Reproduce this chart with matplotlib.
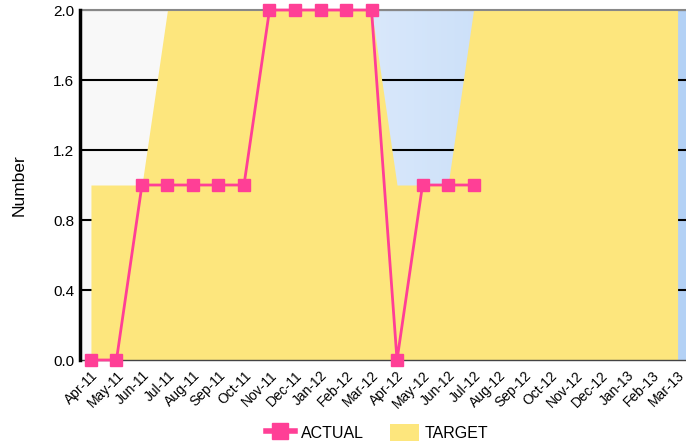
import numpy as np
import matplotlib
matplotlib.use("Agg")
import matplotlib.pyplot as plt
from matplotlib.colors import LinearSegmentedColormap
from matplotlib.lines import Line2D
from matplotlib.patches import Patch

plt.rcParams['font.family'] = ['Liberation Sans', 'DejaVu Sans']

# Data
months = ['Apr-11', 'May-11', 'Jun-11', 'Jul-11', 'Aug-11', 'Sep-11', 'Oct-11', 'Nov-11',
          'Dec-11', 'Jan-12', 'Feb-12', 'Mar-12', 'Apr-12', 'May-12', 'Jun-12', 'Jul-12',
          'Aug-12', 'Sep-12', 'Oct-12', 'Nov-12', 'Dec-12', 'Jan-13', 'Feb-13', 'Mar-13']
target = [1, 1, 1, 2, 2, 2, 2, 2, 2, 2, 2, 2,
          1, 1, 1, 2, 2, 2, 2, 2, 2, 2, 2, 2]
actual = [0, 0, 1, 1, 1, 1, 1, 2, 2, 2, 2, 2,
          0, 1, 1, 1]
yticks = [0.0, 0.4, 0.8, 1.2, 1.6, 2.0]

pink = '#ff3f96'
yellow = '#fde67d'

fig = plt.figure(figsize=(6.86, 4.45), dpi=100)
ax = fig.add_axes([0.1166, 0.191, 0.8834, 0.7865])

x = np.arange(len(months))
xmin, xmax = -0.43, 23.33
ax.set_xlim(xmin, xmax)
ax.set_ylim(0, 2.0)

# background: grey for first year, blue gradient for second
ax.axvspan(xmin, 11, color='#f8f8f8', zorder=0, lw=0)
cmap = LinearSegmentedColormap.from_list('bg', ['#d9e8fb', '#b3d1f5'])
grad = np.linspace(0, 1, 256).reshape(1, -1)
ax.imshow(grad, extent=[11, xmax, 0, 2.0], aspect='auto', cmap=cmap, zorder=0)

# grid lines behind target area
for yv in yticks[1:]:
    ax.axhline(yv, color='black', lw=1.5, zorder=1)

ax.fill_between(x, target, 0, color=yellow, lw=0, zorder=2)
ax.plot(x[:len(actual)], actual, color=pink, lw=2, marker='s', markersize=8,
        zorder=4, clip_on=False)

ax.set_yticks(yticks)
ax.set_yticklabels(['%.1f' % v for v in yticks], fontsize=11)
ax.set_xticks(x)
ax.set_xticklabels(months, rotation=45, ha='right', rotation_mode='anchor', fontsize=10)
ax.tick_params(axis='x', length=0, pad=6)
ax.tick_params(axis='y', length=0, pad=4)
ax.set_ylabel('Number', fontsize=12.5)
ax.yaxis.set_label_coords(-0.088, 0.5)

ax.spines['left'].set_color('black')
ax.spines['left'].set_linewidth(2.5)
ax.spines['left'].set_zorder(5)
ax.spines['bottom'].set_color('#444444')
ax.spines['bottom'].set_linewidth(1)
ax.spines['top'].set_color('#888888')
ax.spines['top'].set_linewidth(1.5)
ax.spines['right'].set_visible(False)

handles = [Line2D([0], [0], color=pink, lw=4, marker='s', markersize=12),
           Patch(facecolor=yellow, edgecolor='none')]
leg = fig.legend(handles, ['ACTUAL', 'TARGET'], loc='center', bbox_to_anchor=(0.55, 0.028),
                 ncol=2, frameon=False, fontsize=11.5, handlelength=1.8, handleheight=1.2,
                 columnspacing=1.6, handletextpad=0.4)

fig.savefig('out.png', dpi=100)
